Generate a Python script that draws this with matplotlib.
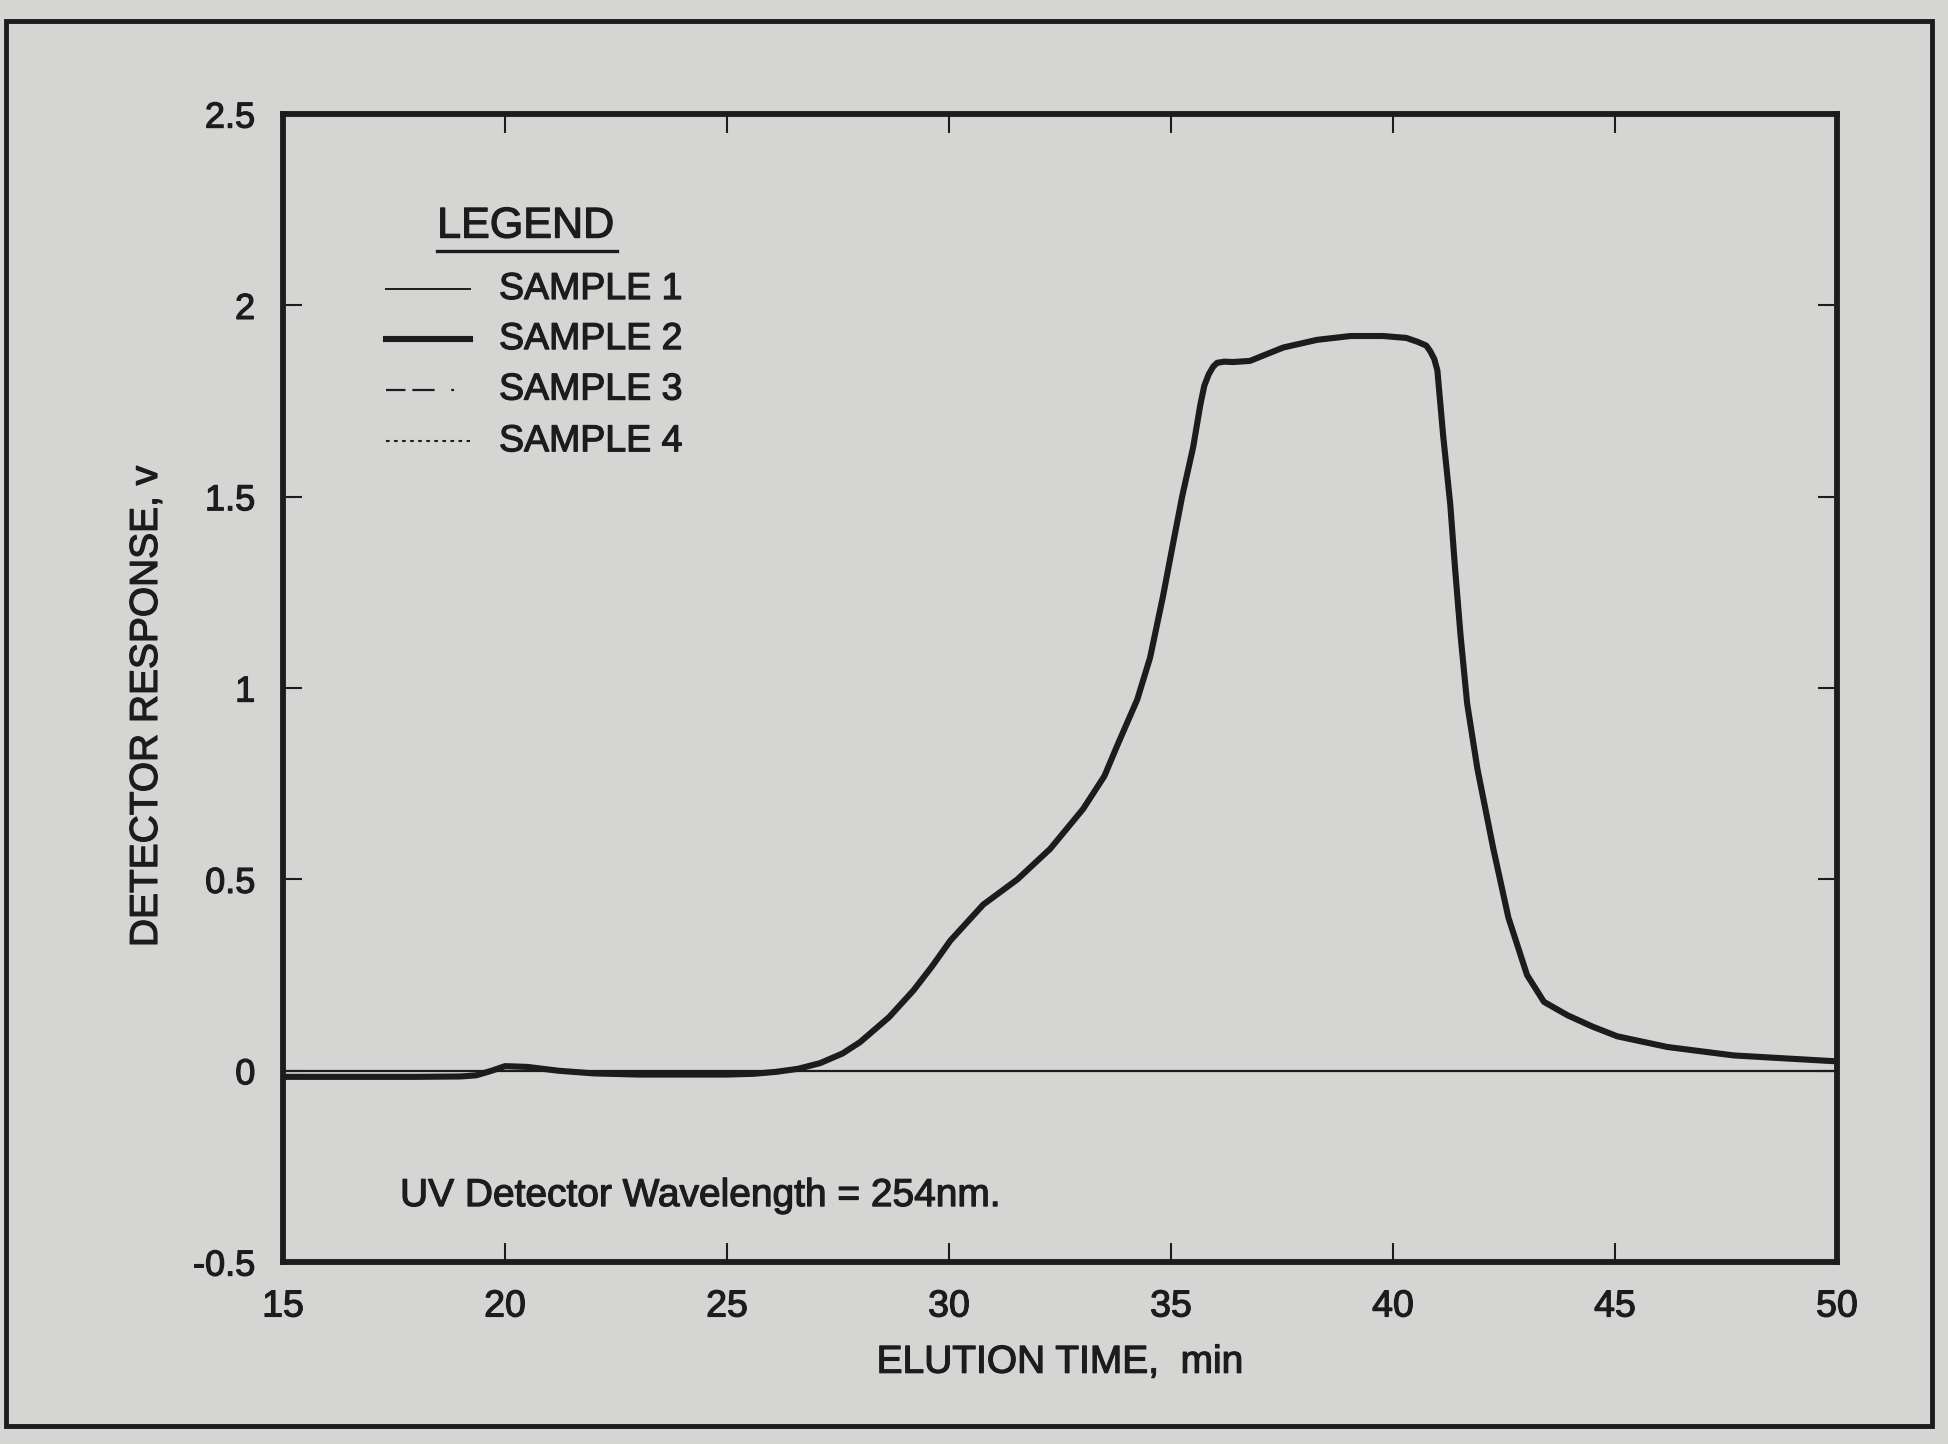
import matplotlib
matplotlib.use("Agg")
import matplotlib.pyplot as plt
import matplotlib.patheffects as pe
from matplotlib.lines import Line2D
from matplotlib.patches import Rectangle

plt.rcParams["font.family"] = ["Liberation Sans", "DejaVu Sans"]
plt.rcParams["lines.scale_dashes"] = False

# Elution profile (detector response in volts vs elution time in minutes)
elution_time = [15.0, 16.0, 17.0, 18.0, 19.0, 19.35, 19.7, 20.0, 20.5, 21.2,
                22.0, 23.0, 24.0, 25.0, 25.6, 26.1, 26.6, 27.1, 27.6, 28.0,
                28.65, 29.2, 29.6, 30.03, 30.77, 31.54, 32.28, 33.02, 33.5, 33.79,
                34.24, 34.53, 34.82, 35.05, 35.25, 35.5, 35.66, 35.75, 35.85, 35.95,
                36.04, 36.2, 36.4, 36.78, 37.1, 37.53, 38.29, 39.04, 39.78, 40.3,
                40.55, 40.75, 40.84, 40.93, 41.0, 41.13, 41.29, 41.4, 41.52, 41.67,
                41.9, 42.26, 42.6, 43.02, 43.4, 43.93, 44.5, 45.05, 46.18, 47.67,
                49.92, 50.0]
response = [-0.016, -0.016, -0.016, -0.016, -0.015, -0.012, 0.0, 0.012, 0.010, 0.0,
            -0.007, -0.010, -0.010, -0.010, -0.008, -0.003, 0.005, 0.02, 0.045, 0.075,
            0.14, 0.21, 0.27, 0.34, 0.434, 0.50, 0.58, 0.684, 0.77, 0.85,
            0.97, 1.08, 1.24, 1.38, 1.5, 1.63, 1.74, 1.79, 1.82, 1.84,
            1.85, 1.853, 1.852, 1.855, 1.87, 1.89, 1.91, 1.92, 1.92, 1.915,
            1.905, 1.895, 1.88, 1.86, 1.83, 1.66, 1.48, 1.31, 1.14, 0.96,
            0.79, 0.58, 0.40, 0.25, 0.18, 0.145, 0.115, 0.09, 0.062, 0.04,
            0.025, 0.025]

# The four runs overlay one another within the line width
sample_names = ["SAMPLE 1", "SAMPLE 2", "SAMPLE 3", "SAMPLE 4"]
sample_responses = [response, response, response, response]

x_ticks = [15, 20, 25, 30, 35, 40, 45, 50]
x_tick_labels = ["15", "20", "25", "30", "35", "40", "45", "50"]
y_ticks = [-0.5, 0, 0.5, 1, 1.5, 2, 2.5]
y_tick_labels = ["-0.5", "0", "0.5", "1", "1.5", "2", "2.5"]

paper = "#d5d6d4"
ink = "#1c1b1d"
heavy = [pe.withStroke(linewidth=0.9, foreground=ink)]

styles = {
    "SAMPLE 1": dict(lw=1.4, linestyle="-"),
    "SAMPLE 2": dict(lw=4.4, linestyle="-"),
    "SAMPLE 3": dict(lw=1.6, linestyle=(0, (14, 5, 16, 12, 2, 12))),
    "SAMPLE 4": dict(lw=1.5, linestyle=(0, (2.6, 3.2))),
}

fig = plt.figure(figsize=(19.48, 14.44), dpi=100, facecolor=paper)
ax = fig.add_axes([0.1453, 0.126, 0.7977, 0.795], facecolor=paper)

# Page frame around the figure
fig.patches.append(Rectangle((0.003, 0.0125), 0.989, 0.973, transform=fig.transFigure,
                             fill=False, edgecolor=ink, linewidth=3.5))

ax.axhline(0, color=ink, lw=1.6, zorder=2)
draw_order = ["SAMPLE 2", "SAMPLE 1", "SAMPLE 3", "SAMPLE 4"]
for name in draw_order:
    vals = sample_responses[sample_names.index(name)]
    ax.plot(elution_time, vals, color=ink, solid_capstyle="round",
            solid_joinstyle="round", zorder=3, **styles[name])

ax.set_xlim(15, 50)
ax.set_ylim(-0.5, 2.5)
ax.set_xticks(x_ticks)
ax.set_xticklabels(x_tick_labels)
ax.set_yticks(y_ticks)
ax.set_yticklabels(y_tick_labels)
ax.tick_params(axis="both", direction="in", length=14, width=1.5, colors=ink,
               top=True, right=True)
ax.tick_params(axis="x", pad=19, labelsize=27)
ax.tick_params(axis="y", pad=20, labelsize=26)
for lab in ax.get_xticklabels() + ax.get_yticklabels():
    lab.set_path_effects(heavy)
for s in ax.spines.values():
    s.set_linewidth(4.2)
    s.set_color(ink)

ax.set_xlabel("ELUTION TIME,  min", fontsize=28, color=ink, path_effects=heavy)
ax.xaxis.set_label_coords(0.5, -0.072)
ax.set_ylabel("DETECTOR RESPONSE, v", fontsize=28, color=ink, path_effects=heavy)
ax.yaxis.set_label_coords(-0.076, 0.484)

# Hand-built legend block
ax.text(0.156, 0.902, "LEGEND", transform=ax.transAxes, ha="center", va="center",
        fontsize=31, color=ink, path_effects=heavy)
ax.add_line(Line2D([0.099, 0.215], [0.881, 0.881], transform=ax.transAxes,
                   color=ink, lw=2.4))
row_y = [0.8476, 0.804, 0.760, 0.715]
for name, yy in zip(sample_names, row_y):
    ax.add_line(Line2D([0.066, 0.120], [yy, yy], transform=ax.transAxes,
                       color=ink, **styles[name]))
    ax.text(0.139, yy, name, transform=ax.transAxes, ha="left", va="center",
            fontsize=27, color=ink, path_effects=heavy)

ax.text(0.0753, 0.0575, "UV Detector Wavelength = 254nm.", transform=ax.transAxes,
        ha="left", va="center", fontsize=28, color=ink, path_effects=heavy)

fig.savefig("out.png", dpi=100, facecolor=paper)
